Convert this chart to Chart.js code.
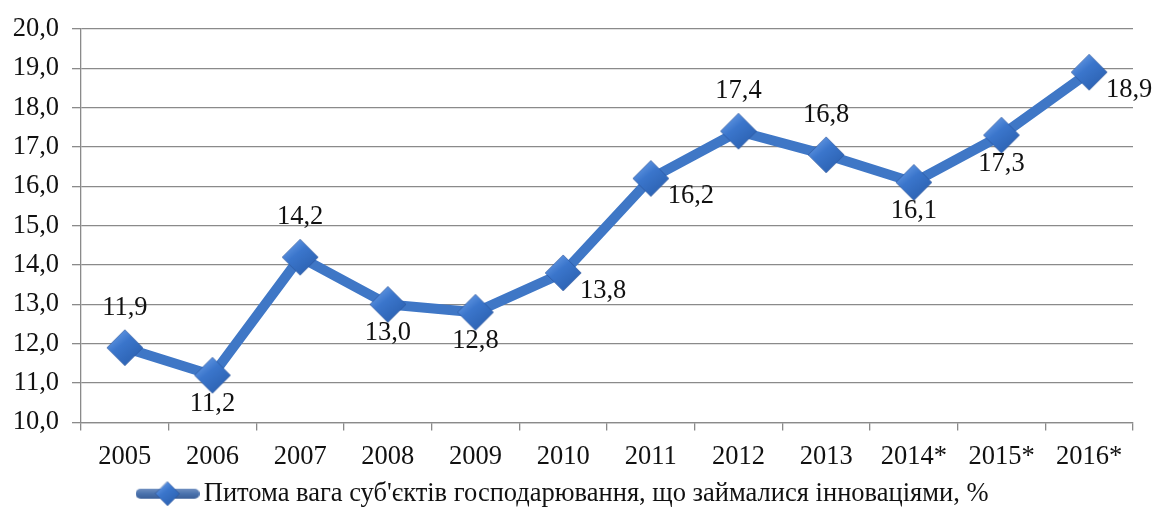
<!DOCTYPE html>
<html>
<head>
<meta charset="utf-8">
<script src="https://cdn.jsdelivr.net/npm/chart.js@4/dist/chart.umd.min.js"></script>
<style>
html,body{margin:0;padding:0;background:#fff;}
#wrap{width:1166px;height:509px;position:relative;}
</style>
</head>
<body>
<div id="wrap"><canvas id="c"></canvas></div>
<script>
const categories = ['2005','2006','2007','2008','2009','2010','2011','2012','2013','2014*','2015*','2016*'];
const values = [11.9, 11.2, 14.2, 13.0, 12.8, 13.8, 16.2, 17.4, 16.8, 16.1, 17.3, 18.9];
const seriesName = "Питома вага суб'єктів господарювання, що займалися інноваціями, %";
const yMin = 10, yMax = 20, yStep = 1;
const labelAnchors = ['top','bottom','top','bottom','bottom','right','right','top','top','bottom','bottom','right'];

const FONT = '"Liberation Serif", "Times New Roman", Times, "DejaVu Serif", serif';
const FS = 26.5;
const LINE_COLOR = '#3F77C6';
const GRID = '#8a8a8a';
const fmt = v => v.toFixed(1).replace('.', ',');

function diamond(r, w) {
  const c = document.createElement('canvas');
  const W = w || 2 * r + 2, H = 2 * r + 2;
  c.width = W; c.height = H;
  const g = c.getContext('2d');
  const cx = W / 2, cy = H / 2;
  if (w) {
    const lg = g.createLinearGradient(0, cy - 5, 0, cy + 5);
    lg.addColorStop(0, '#6f8fc0');
    lg.addColorStop(0.5, '#4a72ad');
    lg.addColorStop(1, '#3a5f98');
    g.strokeStyle = lg; g.lineWidth = 10; g.lineCap = 'round';
    g.beginPath(); g.moveTo(5, cy); g.lineTo(W - 5, cy); g.stroke();
  }
  const grad = g.createLinearGradient(cx - r, cy - r, cx + r * 0.6, cy + r);
  grad.addColorStop(0, '#78aaf0');
  grad.addColorStop(0.45, '#3b76cc');
  grad.addColorStop(1, '#2a5fae');
  g.beginPath();
  g.moveTo(cx, cy - r); g.lineTo(cx + r, cy); g.lineTo(cx, cy + r); g.lineTo(cx - r, cy); g.closePath();
  g.fillStyle = grad; g.fill();
  g.strokeStyle = 'rgba(40,80,150,0.6)'; g.lineWidth = 1; g.stroke();
  return c;
}

function build() {
  const pointImg = diamond(18);
  const legendImg = diamond(12, 64);

  const dataLabels = {
    id: 'dataLabels',
    afterDatasetsDraw(chart) {
      const ctx = chart.ctx;
      const meta = chart.getDatasetMeta(0);
      ctx.save();
      ctx.font = FS + 'px ' + FONT;
      ctx.fillStyle = '#111';
      ctx.textAlign = 'center';
      ctx.textBaseline = 'middle';
      meta.data.forEach((pt, i) => {
        let dx = 0, dy = 0;
        const a = labelAnchors[i];
        if (a === 'top') dy = -40;
        else if (a === 'bottom') dy = 29;
        else if (a === 'right') { dx = 40; dy = 18; }
        ctx.fillText(fmt(values[i]), pt.x + dx, pt.y + dy);
      });
      ctx.restore();
    }
  };

  new Chart(document.getElementById('c'), {
    type: 'line',
    data: {
      labels: categories,
      datasets: [{
        label: seriesName,
        data: values,
        borderColor: LINE_COLOR,
        borderWidth: 10,
        backgroundColor: LINE_COLOR,
        pointStyle: pointImg,
        pointRadius: 18,
        tension: 0,
        fill: false
      }]
    },
    options: {
      responsive: true,
      maintainAspectRatio: false,
      animation: false,
      layout: { padding: { top: 24, right: 33, left: 0, bottom: -8 } },
      plugins: {
        tooltip: { enabled: false },
        legend: {
          position: 'bottom',
          labels: {
            usePointStyle: true,
            pointStyle: legendImg,
            pointStyleWidth: 46,
            padding: 0,
            color: '#111',
            font: { family: FONT, size: FS }
          }
        }
      },
      scales: {
        x: {
          offset: true,
          grid: { offset: true, drawOnChartArea: false, drawTicks: true, tickLength: 8, color: GRID, lineWidth: 1.3 },
          border: { color: GRID, width: 1.3 },
          ticks: { color: '#111', padding: 11, maxRotation: 0, font: { family: FONT, size: FS } },
          afterFit(s) { s.height = 58; }
        },
        y: {
          min: yMin, max: yMax,
          grid: { color: GRID, lineWidth: 1.3, tickLength: 9 },
          border: { color: GRID, width: 1.3 },
          ticks: { stepSize: yStep, color: '#111', padding: 13, font: { family: FONT, size: FS }, callback: v => fmt(v) },
          afterFit(s) { s.width = 81; }
        }
      }
    },
    plugins: [dataLabels]
  });
}

const fontsReady = document.fonts && document.fonts.load
  ? Promise.all([document.fonts.load(FS + 'px "Liberation Serif"', 'Питома 2005')]).catch(() => {})
  : Promise.resolve();
fontsReady.then(build, build);
</script>
</body>
</html>
